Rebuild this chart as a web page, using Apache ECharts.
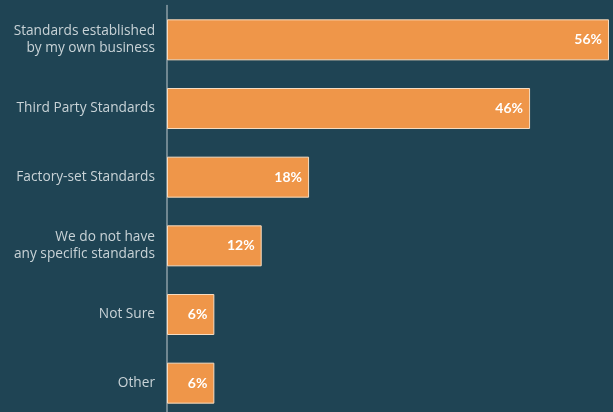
<!DOCTYPE html>
<html><head><meta charset="utf-8">
<script src="https://cdn.jsdelivr.net/npm/echarts@6/dist/echarts.min.js"></script>
<style>html,body{margin:0;padding:0;background:#1f4454;overflow:hidden;}#c{width:613px;height:424px;}</style>
</head><body><div id="c"></div>
<script>
const categories = ["Standards established\nby my own business","Third Party Standards","Factory-set Standards","We do not have\nany specific standards","Not Sure","Other"];
const values = [56,46,18,12,6,6];
const chart = echarts.init(document.getElementById('c'));
chart.setOption({
  backgroundColor:'#1f4454',
  animation:false,
  grid:{left:167,right:4,top:5.5,height:412,containLabel:false},
  xAxis:{type:'value',min:0,max:56,show:false},
  yAxis:{type:'category',data:categories,inverse:true,
    axisLine:{show:true,lineStyle:{color:'#8c9ea6',width:1.5}},
    axisTick:{show:false},
    axisLabel:{color:'#c9d3d7',fontFamily:'Open Sans',fontSize:13.7,lineHeight:17,margin:12,align:'right'}},
  series:[{type:'bar',data:values,barWidth:41,
    itemStyle:{color:'#ef9649',borderColor:'#f7dcc0',borderWidth:1},
    label:{show:true,position:'insideRight',formatter:'{c}%',color:'#ffffff',fontFamily:'Lato',fontWeight:'bold',fontSize:14,distance:7}}]
});
</script></body></html>
